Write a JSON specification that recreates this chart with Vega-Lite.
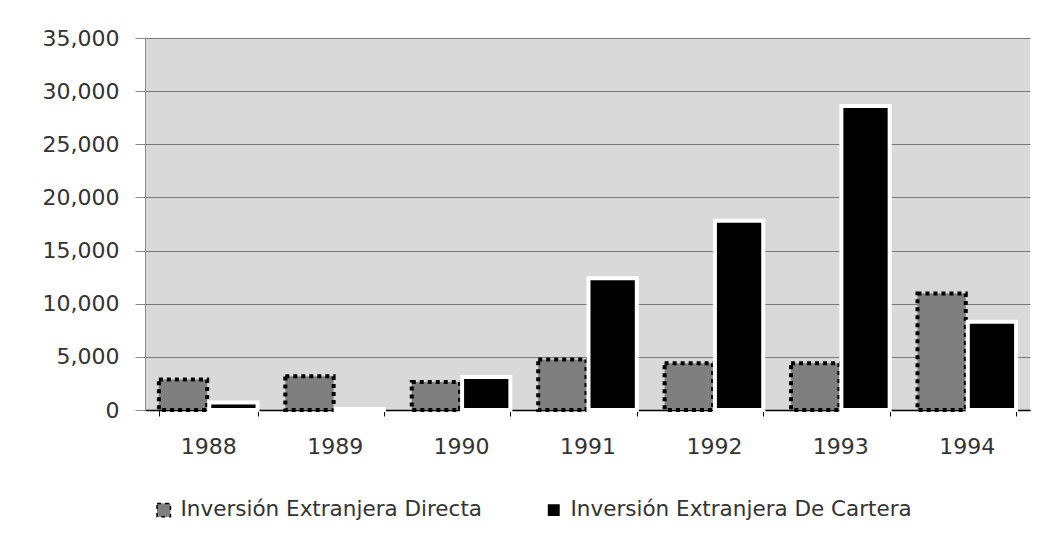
{
  "$schema": "https://vega.github.io/schema/vega-lite/v6.json",
  "autosize": "none",
  "width": 885,
  "height": 372,
  "padding": {"left": 145, "top": 38, "right": 27, "bottom": 124},
  "background": "white",
  "config": {
    "view": {"fill": "#d9d9d9", "stroke": null},
    "font": "DejaVu Sans"
  },
  "data": {
    "values": [
      {"year": "1988", "series": "Inversión Extranjera Directa", "value": 2880},
      {"year": "1988", "series": "Inversión Extranjera De Cartera", "value": 700},
      {"year": "1989", "series": "Inversión Extranjera Directa", "value": 3180},
      {"year": "1989", "series": "Inversión Extranjera De Cartera", "value": 100},
      {"year": "1990", "series": "Inversión Extranjera Directa", "value": 2630},
      {"year": "1990", "series": "Inversión Extranjera De Cartera", "value": 3100},
      {"year": "1991", "series": "Inversión Extranjera Directa", "value": 4760},
      {"year": "1991", "series": "Inversión Extranjera De Cartera", "value": 12400},
      {"year": "1992", "series": "Inversión Extranjera Directa", "value": 4390},
      {"year": "1992", "series": "Inversión Extranjera De Cartera", "value": 17800},
      {"year": "1993", "series": "Inversión Extranjera Directa", "value": 4390},
      {"year": "1993", "series": "Inversión Extranjera De Cartera", "value": 28600},
      {"year": "1994", "series": "Inversión Extranjera Directa", "value": 10970},
      {"year": "1994", "series": "Inversión Extranjera De Cartera", "value": 8300}
    ]
  },
  "mark": {"type": "bar", "strokeWidth": 4},
  "encoding": {
    "x": {
      "field": "year",
      "type": "nominal",
      "scale": {"paddingInner": 0.22, "paddingOuter": 0.11},
      "axis": {
        "title": null,
        "labelAngle": 0,
        "labelFontSize": 22,
        "labelColor": "#333333",
        "labelPadding": 20,
        "labelBaseline": "top",
        "domainColor": "#000000",
        "domainWidth": 1.5,
        "tickColor": "#000000",
        "tickSize": 6,
        "tickBand": "extent",
        "grid": false
      }
    },
    "xOffset": {
      "field": "series",
      "type": "nominal",
      "sort": ["Inversión Extranjera Directa", "Inversión Extranjera De Cartera"],
      "scale": {"paddingInner": 0.04}
    },
    "y": {
      "field": "value",
      "type": "quantitative",
      "scale": {"domain": [0, 35000], "nice": false},
      "axis": {
        "title": null,
        "values": [0, 5000, 10000, 15000, 20000, 25000, 30000, 35000],
        "format": ",.0f",
        "labelFontSize": 22,
        "labelColor": "#333333",
        "labelPadding": 16,
        "domainColor": "#888888",
        "tickColor": "#888888",
        "tickSize": 10,
        "gridColor": "#7a7a7a",
        "gridWidth": 1.2
      }
    },
    "fill": {
      "field": "series",
      "type": "nominal",
      "sort": ["Inversión Extranjera Directa", "Inversión Extranjera De Cartera"],
      "scale": {"domain": ["Inversión Extranjera Directa", "Inversión Extranjera De Cartera"], "range": ["#7f7f7f", "#000000"]},
      "legend": {
        "title": null,
        "orient": "none",
        "direction": "horizontal",
        "legendX": 8,
        "legendY": 461,
        "labelFontSize": 21.5,
        "labelColor": "#333333",
        "labelLimit": 500,
        "labelOffset": 6,
        "symbolType": "square",
        "symbolSize": 180,
        "columnPadding": 60
      }
    },
    "stroke": {
      "field": "series",
      "type": "nominal",
      "sort": ["Inversión Extranjera Directa", "Inversión Extranjera De Cartera"],
      "scale": {"domain": ["Inversión Extranjera Directa", "Inversión Extranjera De Cartera"], "range": ["#000000", "#ffffff"]},
      "legend": null
    },
    "strokeDash": {
      "field": "series",
      "type": "nominal",
      "sort": ["Inversión Extranjera Directa", "Inversión Extranjera De Cartera"],
      "scale": {"domain": ["Inversión Extranjera Directa", "Inversión Extranjera De Cartera"], "range": [[4, 4], [1, 0]]},
      "legend": null
    }
  }
}
